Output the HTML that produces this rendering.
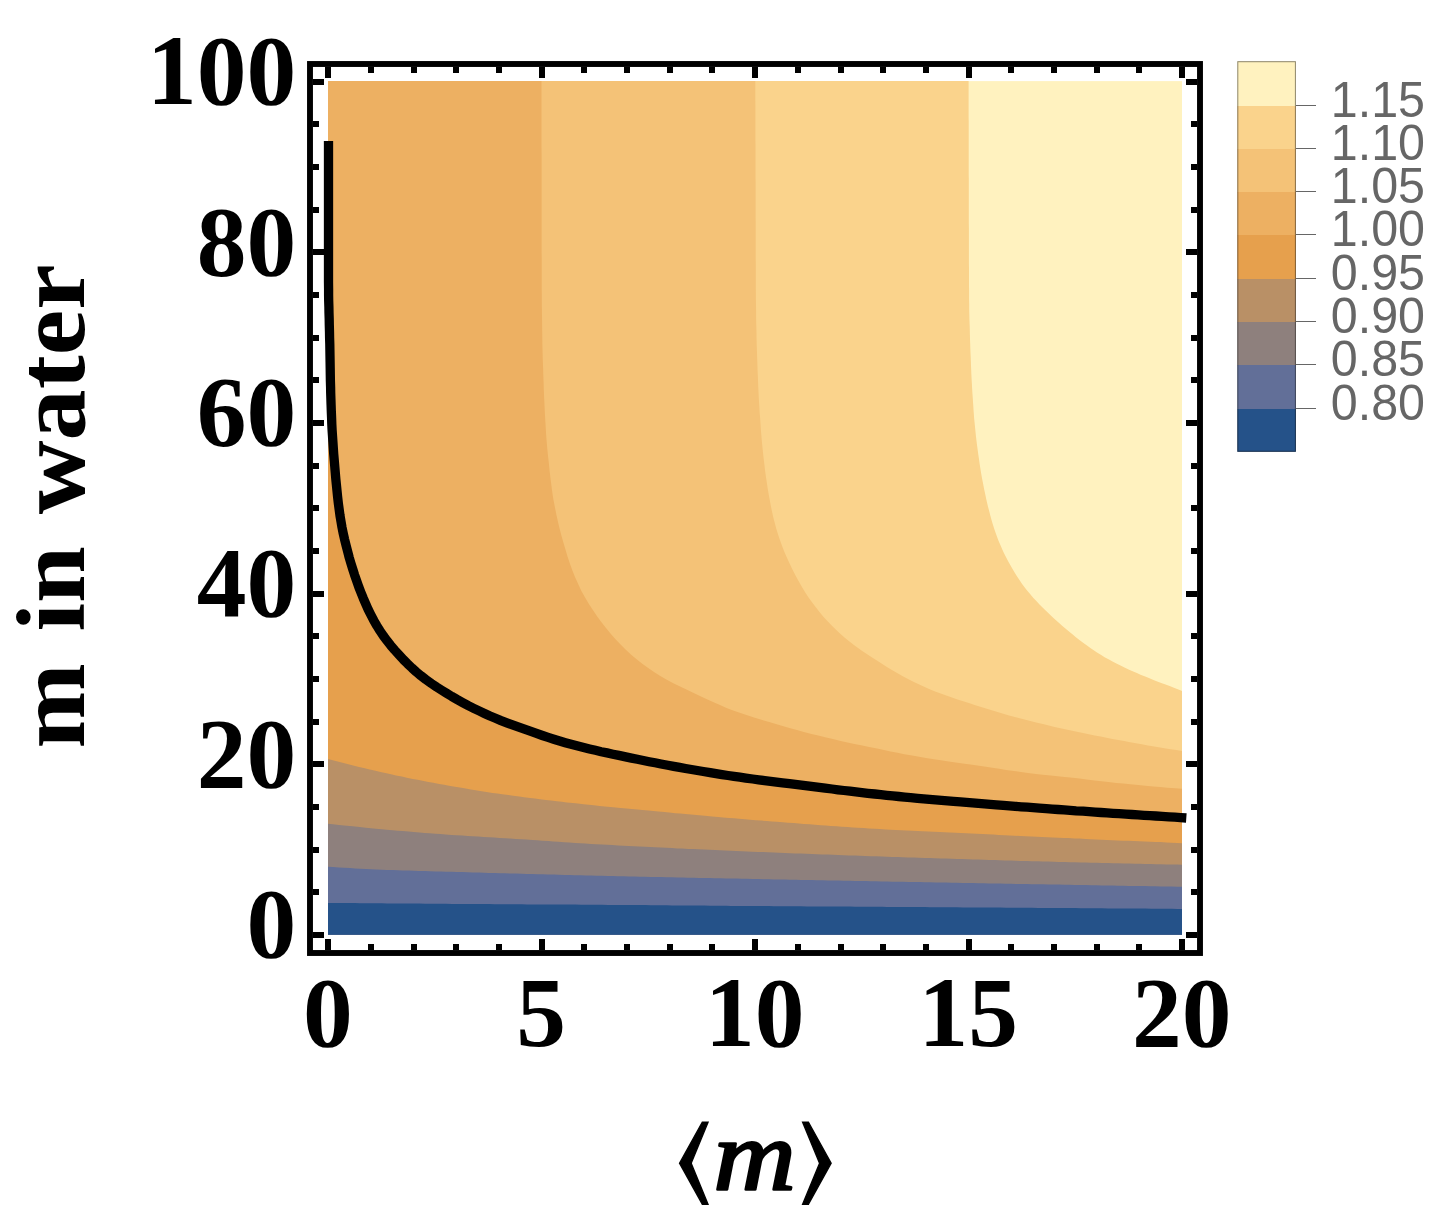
<!DOCTYPE html>
<html><head><meta charset="utf-8"><title>Contour plot</title>
<style>html,body{margin:0;padding:0;background:#fff}svg{display:block}</style></head>
<body><svg width="1451" height="1226" viewBox="0 0 1451 1226">
<rect width="1451" height="1226" fill="#fff"/>
<rect x="328" y="81.1" width="854" height="853.7" fill="#FFF2BF"/>
<path d="M328.0 81.1 L968.6 81.0 L968.6 85.0 L968.6 90.0 L968.6 94.0 L968.6 99.0 L968.6 103.0 L968.6 108.0 L968.6 112.0 L968.6 117.0 L968.7 121.0 L968.7 126.0 L968.7 130.0 L968.7 134.0 L968.7 139.0 L968.7 143.0 L968.7 148.0 L968.7 152.0 L968.7 157.0 L968.7 161.0 L968.7 166.0 L968.7 170.0 L968.7 175.0 L968.8 179.0 L968.8 183.0 L968.8 188.0 L968.8 192.0 L968.8 197.0 L968.8 201.0 L968.8 206.0 L968.8 210.0 L968.8 215.0 L968.8 219.0 L968.8 223.0 L968.9 228.0 L968.9 232.0 L968.9 237.0 L968.9 241.0 L968.9 246.0 L968.9 250.0 L968.9 255.0 L968.9 259.0 L968.9 264.0 L969.0 268.0 L969.0 272.0 L969.0 277.0 L969.0 281.0 L969.0 286.0 L969.1 290.0 L969.1 295.0 L969.1 299.0 L969.2 304.0 L969.2 308.0 L969.3 313.0 L969.4 317.0 L969.5 321.0 L969.7 326.0 L969.8 330.0 L969.9 335.0 L970.0 339.0 L970.2 344.0 L970.3 348.0 L970.5 353.0 L970.7 357.0 L970.9 362.0 L971.0 366.0 L971.2 370.0 L971.4 375.0 L971.6 379.0 L971.9 383.9 L972.1 387.9 L972.4 392.9 L972.7 396.9 L973.0 401.9 L973.3 405.9 L973.6 410.9 L973.9 414.9 L974.2 418.9 L974.7 423.8 L975.1 427.8 L975.6 432.8 L976.0 436.8 L976.6 441.7 L977.1 445.7 L977.8 450.7 L978.3 454.6 L978.9 458.6 L979.6 463.5 L980.2 467.5 L981.0 472.4 L981.7 476.4 L982.6 481.3 L983.4 485.2 L984.3 490.1 L985.2 494.0 L986.2 498.9 L987.1 502.8 L988.0 506.7 L989.3 511.5 L990.3 515.4 L991.6 520.2 L992.7 524.1 L994.2 528.8 L995.5 532.6 L997.2 537.3 L998.6 541.0 L1000.6 545.6 L1002.2 549.3 L1003.9 552.9 L1006.2 557.4 L1008.0 560.9 L1010.4 565.3 L1012.4 568.8 L1014.9 573.1 L1017.1 576.5 L1019.8 580.6 L1022.1 583.9 L1025.1 587.9 L1027.5 591.0 L1030.1 594.1 L1033.4 597.9 L1036.1 600.8 L1039.5 604.5 L1042.3 607.3 L1045.9 610.8 L1048.8 613.6 L1052.4 617.0 L1055.4 619.7 L1059.1 623.1 L1062.1 625.7 L1065.1 628.3 L1069.0 631.5 L1072.1 634.1 L1075.9 637.2 L1079.1 639.7 L1083.1 642.7 L1086.3 645.1 L1090.4 648.0 L1093.7 650.2 L1097.0 652.4 L1101.2 655.1 L1104.6 657.2 L1109.0 659.6 L1112.5 661.5 L1116.9 663.8 L1120.5 665.6 L1125.0 667.8 L1128.6 669.5 L1133.2 671.5 L1136.9 673.1 L1140.5 674.7 L1145.2 676.6 L1148.9 678.1 L1153.5 680.0 L1157.2 681.4 L1161.9 683.2 L1165.6 684.6 L1170.3 686.3 L1173.9 687.7 L1178.4 689.5 L1182.0 690.9 L1182.0 690.9 L1182.0 934.8 L328.0 934.8Z" fill="#FAD38C"/>
<path d="M328.0 81.1 L755.3 81.0 L755.3 87.0 L755.3 93.0 L755.3 99.0 L755.4 105.0 L755.4 111.0 L755.4 116.0 L755.4 122.0 L755.4 128.0 L755.4 134.0 L755.4 140.0 L755.5 146.0 L755.5 152.0 L755.5 158.0 L755.5 164.0 L755.5 170.0 L755.5 176.0 L755.6 182.0 L755.6 187.0 L755.6 193.0 L755.6 199.0 L755.6 205.0 L755.6 211.0 L755.6 217.0 L755.7 223.0 L755.7 229.0 L755.7 235.0 L755.7 241.0 L755.7 247.0 L755.7 252.0 L755.7 258.0 L755.8 264.0 L755.8 270.0 L755.8 276.0 L755.8 282.0 L755.8 288.0 L755.9 294.0 L755.9 300.0 L756.0 306.0 L756.1 312.0 L756.1 317.0 L756.2 323.0 L756.4 329.0 L756.5 335.0 L756.6 341.0 L756.8 347.0 L757.0 353.0 L757.2 359.0 L757.4 365.0 L757.6 371.0 L757.9 377.0 L758.1 383.0 L758.3 388.0 L758.6 394.0 L758.9 399.9 L759.3 405.9 L759.6 411.9 L760.1 417.9 L760.5 423.9 L760.9 429.9 L761.4 435.9 L761.9 441.8 L762.5 447.8 L763.0 452.8 L763.7 458.7 L764.4 464.7 L765.1 470.7 L765.9 476.6 L766.8 482.5 L767.7 488.5 L768.7 494.4 L769.8 500.3 L770.9 506.2 L772.1 512.1 L773.2 516.9 L774.7 522.7 L776.2 528.5 L778.0 534.3 L779.9 539.9 L781.9 545.6 L784.1 551.2 L786.5 556.7 L788.9 562.1 L791.5 567.6 L794.2 572.9 L797.0 578.2 L799.4 582.6 L802.4 587.8 L805.6 592.9 L808.9 597.9 L812.4 602.8 L816.0 607.6 L819.7 612.3 L823.6 616.9 L827.6 621.3 L831.7 625.6 L836.0 629.8 L839.7 633.2 L844.2 637.2 L848.8 641.0 L853.6 644.7 L858.4 648.2 L863.3 651.7 L868.3 655.0 L873.3 658.3 L878.4 661.5 L883.4 664.8 L888.5 667.9 L892.8 670.5 L898.0 673.5 L903.2 676.5 L908.5 679.3 L913.9 682.0 L919.3 684.6 L924.7 687.1 L930.2 689.4 L935.8 691.7 L941.4 693.8 L947.0 695.8 L952.7 697.8 L957.5 699.4 L963.2 701.3 L968.9 703.1 L974.6 705.0 L980.3 706.8 L986.0 708.6 L991.8 710.3 L997.5 712.0 L1003.3 713.7 L1009.0 715.4 L1014.8 717.0 L1019.7 718.3 L1025.5 719.8 L1031.3 721.3 L1037.1 722.7 L1042.9 724.1 L1048.8 725.5 L1054.6 726.9 L1060.5 728.2 L1066.3 729.5 L1072.2 730.7 L1078.1 732.0 L1083.0 733.0 L1088.8 734.2 L1094.7 735.4 L1100.6 736.5 L1106.5 737.7 L1112.4 738.9 L1118.3 740.0 L1124.2 741.1 L1130.1 742.2 L1136.0 743.3 L1141.9 744.3 L1147.8 745.4 L1152.7 746.2 L1158.6 747.2 L1164.5 748.2 L1170.4 749.2 L1176.2 750.1 L1182.0 751.0 L1182.0 751.0 L1182.0 934.8 L328.0 934.8Z" fill="#F4C277"/>
<path d="M328.0 81.1 L541.5 81.0 L541.5 88.0 L541.5 96.0 L541.5 103.0 L541.5 110.0 L541.5 118.0 L541.5 125.0 L541.5 133.0 L541.5 140.0 L541.5 147.0 L541.6 155.0 L541.6 162.0 L541.6 169.0 L541.6 177.0 L541.6 184.0 L541.6 191.0 L541.6 199.0 L541.6 206.0 L541.6 213.0 L541.6 221.0 L541.6 228.0 L541.6 236.0 L541.6 243.0 L541.6 250.0 L541.7 258.0 L541.7 265.0 L541.7 272.0 L541.7 280.0 L541.7 287.0 L541.8 294.0 L541.8 302.0 L541.9 309.0 L542.0 316.0 L542.1 324.0 L542.2 331.0 L542.3 339.0 L542.4 346.0 L542.6 353.0 L542.8 361.0 L543.1 368.0 L543.3 375.0 L543.6 383.0 L543.8 390.0 L544.1 397.0 L544.5 405.0 L544.8 411.9 L545.2 418.9 L545.7 426.9 L546.1 433.9 L546.7 441.9 L547.3 448.9 L548.0 455.8 L548.9 463.8 L549.6 470.7 L550.4 477.7 L551.4 485.6 L552.3 492.6 L553.4 499.5 L554.9 507.3 L556.3 514.2 L558.0 522.0 L559.6 528.8 L561.4 535.6 L563.6 543.3 L565.6 550.0 L567.6 556.7 L570.1 564.3 L572.5 570.8 L575.1 577.3 L578.4 584.6 L581.4 590.9 L584.8 597.1 L588.9 603.9 L592.7 609.8 L597.2 616.4 L601.3 622.0 L605.6 627.6 L610.7 633.7 L615.3 639.0 L620.1 644.1 L625.8 649.7 L630.9 654.4 L636.3 659.0 L642.6 663.9 L648.2 668.0 L654.0 672.0 L660.7 676.3 L666.8 679.8 L673.8 683.5 L680.1 686.6 L686.4 689.6 L693.7 693.0 L700.0 695.9 L706.4 698.9 L713.6 702.3 L720.0 705.1 L726.5 707.9 L733.9 710.8 L740.5 713.1 L747.2 715.3 L754.8 717.7 L761.5 719.8 L769.2 722.0 L775.9 724.0 L782.6 726.0 L790.3 728.2 L797.0 730.1 L803.8 731.9 L811.5 733.9 L818.3 735.6 L825.1 737.3 L832.9 739.1 L839.7 740.7 L847.5 742.4 L854.4 743.9 L861.2 745.3 L869.1 746.9 L875.9 748.3 L882.8 749.8 L890.6 751.4 L897.5 752.8 L904.3 754.2 L912.2 755.6 L919.1 756.8 L926.0 758.0 L933.9 759.2 L940.8 760.3 L948.7 761.5 L955.6 762.5 L962.6 763.5 L970.5 764.6 L977.4 765.6 L984.3 766.6 L992.3 767.8 L999.2 768.8 L1006.1 769.9 L1014.0 771.0 L1021.0 772.0 L1027.9 772.9 L1035.8 773.9 L1042.8 774.7 L1050.7 775.6 L1057.7 776.3 L1064.7 777.0 L1072.6 777.8 L1079.6 778.6 L1086.5 779.4 L1094.5 780.4 L1101.4 781.2 L1108.4 782.0 L1116.3 782.9 L1123.3 783.6 L1130.3 784.3 L1138.2 785.1 L1145.2 785.7 L1153.2 786.5 L1160.1 787.1 L1167.1 787.7 L1175.1 788.3 L1182.0 788.8 L1182.0 788.8 L1182.0 934.8 L328.0 934.8Z" fill="#EDB062"/>
<path d="M328.0 141.0 L328.5 141.0 L328.5 149.0 L328.5 158.0 L328.5 166.0 L328.5 175.0 L328.5 183.0 L328.5 192.0 L328.5 200.0 L328.5 209.0 L328.5 217.0 L328.5 226.0 L328.5 234.0 L328.5 243.0 L328.5 251.0 L328.5 260.0 L328.5 268.0 L328.5 276.0 L328.5 285.0 L328.6 293.0 L328.8 302.0 L328.9 310.0 L329.2 319.0 L329.4 327.0 L329.6 336.0 L329.8 344.0 L329.9 353.0 L330.1 361.0 L330.2 370.0 L330.4 378.0 L330.5 386.0 L330.8 395.0 L331.0 403.0 L331.3 412.0 L331.6 420.0 L332.1 428.9 L332.6 436.9 L333.2 445.9 L333.7 453.9 L334.5 462.9 L335.1 470.8 L335.9 479.8 L336.7 487.8 L337.6 496.7 L338.6 504.7 L339.6 512.6 L341.0 521.5 L342.4 529.3 L344.3 538.1 L346.2 545.9 L348.4 554.6 L350.6 562.3 L353.3 570.9 L355.8 578.5 L358.8 587.0 L361.7 594.4 L365.2 602.7 L368.5 610.0 L372.5 618.1 L376.4 625.0 L380.6 631.8 L385.8 639.2 L390.7 645.4 L396.6 652.2 L402.1 658.1 L408.4 664.5 L414.2 670.0 L421.0 675.8 L427.4 680.7 L434.8 685.8 L441.5 690.1 L449.1 694.8 L456.1 698.9 L463.9 703.2 L471.0 706.9 L478.2 710.5 L486.3 714.3 L493.6 717.6 L502.0 721.0 L509.4 723.8 L517.9 726.9 L525.4 729.5 L533.9 732.5 L541.5 735.1 L550.0 738.0 L557.6 740.4 L566.3 743.0 L574.0 745.1 L581.7 747.1 L590.5 749.2 L598.3 751.0 L607.1 752.9 L614.9 754.6 L623.7 756.5 L631.5 758.1 L640.4 759.9 L648.2 761.5 L657.0 763.2 L664.9 764.7 L673.7 766.4 L681.6 767.8 L690.5 769.4 L698.4 770.7 L706.2 772.0 L715.1 773.5 L723.0 774.7 L731.9 776.1 L739.8 777.2 L748.8 778.5 L756.7 779.5 L765.6 780.7 L773.5 781.7 L782.5 782.8 L790.4 783.8 L799.4 784.9 L807.3 785.9 L816.2 787.0 L824.2 788.0 L832.1 789.0 L841.0 790.1 L849.0 791.1 L857.9 792.1 L865.9 793.0 L874.8 794.0 L882.8 794.8 L891.7 795.8 L899.7 796.6 L908.6 797.4 L916.6 798.2 L925.6 799.0 L933.5 799.7 L942.5 800.5 L950.5 801.1 L958.4 801.8 L967.4 802.5 L975.4 803.1 L984.4 803.9 L992.3 804.5 L1001.3 805.2 L1009.3 805.8 L1018.3 806.5 L1026.2 807.2 L1035.2 807.8 L1043.2 808.4 L1052.2 809.1 L1060.1 809.6 L1068.1 810.2 L1077.1 810.8 L1085.1 811.4 L1094.1 812.0 L1102.0 812.5 L1111.0 813.1 L1119.0 813.6 L1128.0 814.2 L1136.0 814.7 L1144.9 815.3 L1152.9 815.8 L1161.9 816.4 L1169.8 816.9 L1178.6 817.5 L1182.0 818.0 L1182.0 818.0 L1182.0 934.8 L328.0 934.8Z" fill="#E6A04D"/>
<path d="M328.0 758.9 L328.0 758.9 L332.8 760.2 L338.6 761.8 L343.5 763.0 L349.3 764.5 L354.1 765.8 L359.0 767.0 L364.8 768.3 L369.7 769.5 L375.5 770.8 L380.4 771.9 L385.3 773.0 L391.1 774.3 L396.0 775.4 L401.9 776.6 L406.8 777.7 L412.7 778.9 L417.6 779.8 L422.5 780.8 L428.4 781.9 L433.3 782.8 L439.2 783.9 L444.1 784.8 L449.0 785.7 L454.9 786.7 L459.9 787.6 L465.8 788.6 L470.7 789.4 L475.6 790.2 L481.6 791.2 L486.5 791.9 L492.4 792.9 L497.4 793.6 L502.3 794.3 L508.3 795.1 L513.2 795.8 L519.2 796.6 L524.1 797.3 L530.1 798.0 L535.0 798.6 L540.0 799.3 L546.0 800.0 L550.9 800.6 L556.9 801.3 L561.9 801.8 L566.8 802.4 L572.8 803.1 L577.8 803.6 L583.7 804.3 L588.7 804.8 L593.7 805.3 L599.6 805.9 L604.6 806.4 L610.6 807.0 L615.6 807.5 L620.5 808.0 L626.5 808.5 L631.5 809.0 L637.5 809.6 L642.4 810.1 L648.4 810.6 L653.4 811.1 L658.4 811.6 L664.3 812.1 L669.3 812.6 L675.3 813.2 L680.3 813.6 L685.2 814.1 L691.2 814.6 L696.2 815.1 L702.2 815.6 L707.2 816.0 L712.1 816.5 L718.1 817.0 L723.1 817.4 L729.1 817.9 L734.1 818.3 L739.0 818.8 L745.0 819.3 L750.0 819.7 L756.0 820.2 L761.0 820.6 L766.9 821.0 L771.9 821.4 L776.9 821.8 L782.9 822.3 L787.9 822.7 L793.9 823.1 L798.9 823.5 L803.8 823.9 L809.8 824.3 L814.8 824.7 L820.8 825.2 L825.8 825.5 L830.8 825.9 L836.8 826.3 L841.7 826.7 L847.7 827.1 L852.7 827.4 L857.7 827.7 L863.7 828.1 L868.7 828.4 L874.7 828.8 L879.7 829.1 L885.7 829.4 L890.6 829.7 L895.6 829.9 L901.6 830.3 L906.6 830.5 L912.6 830.8 L917.6 831.1 L922.6 831.3 L928.6 831.6 L933.6 831.8 L939.6 832.1 L944.6 832.3 L949.6 832.6 L955.6 832.8 L960.6 833.1 L966.6 833.3 L971.6 833.6 L976.5 833.8 L982.5 834.1 L987.5 834.3 L993.5 834.6 L998.5 834.9 L1004.5 835.2 L1009.5 835.4 L1014.5 835.7 L1020.5 836.0 L1025.5 836.2 L1031.5 836.5 L1036.5 836.7 L1041.5 836.9 L1047.5 837.2 L1052.5 837.4 L1058.5 837.7 L1063.5 837.9 L1068.4 838.1 L1074.4 838.4 L1079.4 838.6 L1085.4 839.0 L1090.4 839.2 L1095.4 839.5 L1101.4 839.8 L1106.4 840.1 L1112.4 840.3 L1117.4 840.5 L1123.4 840.7 L1128.4 840.8 L1133.4 841.0 L1139.4 841.2 L1144.4 841.4 L1150.4 841.7 L1155.4 841.9 L1160.3 842.1 L1166.3 842.4 L1171.2 842.7 L1177.1 843.0 L1182.0 843.3 L1182.0 843.3 L1182.0 934.8 L328.0 934.8Z" fill="#B99066"/>
<path d="M328.0 823.8 L328.0 823.8 L333.0 824.3 L338.9 825.0 L343.9 825.5 L349.9 826.1 L354.9 826.6 L359.8 827.1 L365.8 827.7 L370.8 828.2 L375.8 828.7 L381.7 829.2 L386.7 829.7 L392.7 830.2 L397.7 830.7 L402.6 831.1 L408.6 831.6 L413.6 832.0 L419.6 832.5 L424.6 832.9 L429.6 833.3 L435.5 833.8 L440.5 834.1 L445.5 834.5 L451.5 834.9 L456.5 835.2 L462.5 835.6 L467.5 835.9 L472.5 836.3 L478.4 836.6 L483.4 836.9 L489.4 837.3 L494.4 837.6 L499.4 837.9 L505.4 838.3 L510.4 838.6 L515.4 838.9 L521.4 839.3 L526.3 839.6 L532.3 840.0 L537.3 840.3 L542.3 840.7 L548.3 841.1 L553.3 841.4 L558.3 841.8 L564.3 842.2 L569.3 842.5 L575.2 842.9 L580.2 843.2 L585.2 843.5 L591.2 843.9 L596.2 844.2 L602.2 844.5 L607.2 844.8 L612.2 845.1 L618.2 845.4 L623.2 845.7 L628.1 845.9 L634.1 846.2 L639.1 846.5 L645.1 846.8 L650.1 847.0 L655.1 847.3 L661.1 847.6 L666.1 847.8 L672.1 848.1 L677.1 848.4 L682.1 848.6 L688.1 848.9 L693.1 849.1 L698.1 849.3 L704.1 849.6 L709.1 849.8 L715.1 850.1 L720.0 850.3 L725.0 850.5 L731.0 850.8 L736.0 851.0 L742.0 851.3 L747.0 851.5 L752.0 851.7 L758.0 851.9 L763.0 852.1 L768.0 852.3 L774.0 852.6 L779.0 852.8 L785.0 853.0 L790.0 853.2 L795.0 853.4 L801.0 853.6 L806.0 853.8 L812.0 854.0 L817.0 854.2 L822.0 854.4 L828.0 854.6 L833.0 854.8 L838.0 855.0 L843.9 855.2 L848.9 855.4 L854.9 855.6 L859.9 855.8 L864.9 855.9 L870.9 856.2 L875.9 856.3 L881.9 856.5 L886.9 856.7 L891.9 856.9 L897.9 857.1 L902.9 857.2 L907.9 857.4 L913.9 857.6 L918.9 857.8 L924.9 858.0 L929.9 858.1 L934.9 858.3 L940.9 858.5 L945.9 858.6 L951.9 858.8 L956.9 859.0 L961.9 859.1 L967.9 859.3 L972.9 859.5 L977.9 859.6 L983.9 859.8 L988.9 860.0 L994.9 860.1 L999.9 860.3 L1004.9 860.4 L1010.9 860.6 L1015.9 860.7 L1020.9 860.9 L1026.9 861.0 L1031.9 861.2 L1037.9 861.3 L1042.9 861.5 L1047.8 861.6 L1053.8 861.8 L1058.8 861.9 L1064.8 862.0 L1069.8 862.2 L1074.8 862.3 L1080.8 862.4 L1085.8 862.6 L1090.8 862.7 L1096.8 862.8 L1101.8 863.0 L1107.8 863.1 L1112.8 863.2 L1117.8 863.3 L1123.8 863.5 L1128.8 863.6 L1134.8 863.7 L1139.8 863.8 L1144.8 863.9 L1150.8 864.1 L1155.8 864.2 L1160.8 864.3 L1166.7 864.4 L1171.6 864.5 L1177.3 864.6 L1182.0 864.7 L1182.0 864.7 L1182.0 934.8 L328.0 934.8Z" fill="#8E807D"/>
<path d="M328.0 866.8 L328.0 866.8 L333.0 867.1 L339.0 867.5 L344.0 867.8 L350.0 868.1 L355.0 868.4 L359.9 868.7 L365.9 869.0 L370.9 869.2 L375.9 869.4 L381.9 869.7 L386.9 869.9 L392.9 870.1 L397.9 870.3 L402.9 870.5 L408.9 870.6 L413.9 870.8 L418.9 870.9 L424.9 871.1 L429.9 871.2 L435.9 871.4 L440.9 871.5 L445.9 871.7 L451.9 871.8 L456.9 872.0 L461.9 872.1 L467.9 872.3 L472.9 872.4 L478.9 872.6 L483.9 872.7 L488.9 872.9 L494.9 873.0 L499.9 873.2 L504.9 873.3 L510.9 873.5 L515.9 873.6 L521.9 873.8 L526.9 873.9 L531.9 874.0 L537.9 874.2 L542.9 874.3 L547.9 874.5 L553.9 874.6 L558.8 874.8 L564.8 874.9 L569.8 875.0 L574.8 875.2 L580.8 875.3 L585.8 875.5 L590.8 875.6 L596.8 875.7 L601.8 875.8 L607.8 876.0 L612.8 876.1 L617.8 876.2 L623.8 876.3 L628.8 876.4 L634.8 876.6 L639.8 876.7 L644.8 876.8 L650.8 876.9 L655.8 877.0 L660.8 877.1 L666.8 877.2 L671.8 877.3 L677.8 877.5 L682.8 877.6 L687.8 877.7 L693.8 877.8 L698.8 877.9 L703.8 878.0 L709.8 878.1 L714.8 878.2 L720.8 878.3 L725.8 878.4 L730.8 878.5 L736.8 878.6 L741.8 878.7 L746.8 878.8 L752.8 879.0 L757.8 879.1 L763.8 879.2 L768.8 879.3 L773.8 879.4 L779.8 879.5 L784.8 879.6 L789.8 879.7 L795.8 879.8 L800.8 879.9 L806.8 880.0 L811.8 880.1 L816.8 880.2 L822.8 880.3 L827.8 880.4 L832.8 880.5 L838.8 880.6 L843.8 880.7 L849.8 880.8 L854.8 880.9 L859.8 881.0 L865.8 881.1 L870.8 881.2 L875.8 881.3 L881.8 881.4 L886.8 881.5 L892.8 881.7 L897.8 881.7 L902.8 881.8 L908.8 881.9 L913.8 882.0 L919.8 882.1 L924.8 882.2 L929.8 882.3 L935.8 882.4 L940.8 882.5 L945.8 882.6 L951.8 882.7 L956.8 882.8 L962.8 882.9 L967.8 883.0 L972.8 883.1 L978.8 883.2 L983.8 883.3 L988.8 883.4 L994.8 883.5 L999.8 883.6 L1005.8 883.7 L1010.8 883.8 L1015.8 883.9 L1021.8 884.0 L1026.8 884.1 L1031.8 884.2 L1037.8 884.3 L1042.8 884.3 L1048.8 884.5 L1053.8 884.5 L1058.8 884.6 L1064.7 884.7 L1069.7 884.8 L1074.7 884.9 L1080.7 885.0 L1085.7 885.1 L1091.7 885.2 L1096.7 885.3 L1101.7 885.4 L1107.7 885.5 L1112.7 885.6 L1117.7 885.7 L1123.7 885.8 L1128.7 885.9 L1134.7 886.0 L1139.7 886.1 L1144.7 886.1 L1150.7 886.3 L1155.7 886.3 L1160.7 886.4 L1166.7 886.5 L1171.5 886.6 L1177.3 886.7 L1182.0 886.8 L1182.0 886.8 L1182.0 934.8 L328.0 934.8Z" fill="#626F98"/>
<path d="M328.0 902.9 L328.0 902.9 L333.0 902.9 L339.0 903.0 L344.0 903.0 L350.0 903.1 L355.0 903.1 L360.0 903.2 L366.0 903.2 L371.0 903.3 L376.0 903.3 L382.0 903.3 L387.0 903.4 L393.0 903.4 L398.0 903.5 L403.0 903.5 L409.0 903.6 L414.0 903.6 L419.0 903.6 L425.0 903.7 L430.0 903.7 L436.0 903.8 L441.0 903.8 L446.0 903.8 L452.0 903.9 L457.0 903.9 L462.0 903.9 L468.0 904.0 L473.0 904.0 L479.0 904.1 L484.0 904.1 L489.0 904.1 L495.0 904.2 L500.0 904.2 L505.0 904.2 L511.0 904.3 L516.0 904.3 L522.0 904.3 L527.0 904.4 L532.0 904.4 L538.0 904.4 L543.0 904.4 L548.0 904.5 L554.0 904.5 L559.0 904.5 L565.0 904.6 L570.0 904.6 L575.0 904.6 L581.0 904.7 L586.0 904.7 L591.0 904.7 L597.0 904.8 L602.0 904.8 L608.0 904.9 L613.0 904.9 L618.0 904.9 L624.0 905.0 L629.0 905.0 L635.0 905.1 L640.0 905.1 L645.0 905.1 L651.0 905.2 L656.0 905.2 L661.0 905.3 L667.0 905.3 L672.0 905.4 L678.0 905.4 L683.0 905.5 L688.0 905.5 L694.0 905.6 L699.0 905.6 L704.0 905.6 L710.0 905.7 L715.0 905.7 L721.0 905.8 L726.0 905.8 L731.0 905.9 L737.0 905.9 L742.0 905.9 L747.0 906.0 L753.0 906.0 L758.0 906.1 L764.0 906.1 L769.0 906.1 L774.0 906.2 L780.0 906.2 L785.0 906.2 L790.0 906.3 L796.0 906.3 L801.0 906.3 L807.0 906.4 L812.0 906.4 L817.0 906.4 L823.0 906.5 L828.0 906.5 L833.0 906.5 L839.0 906.6 L844.0 906.6 L850.0 906.6 L855.0 906.7 L860.0 906.7 L866.0 906.7 L871.0 906.8 L876.0 906.8 L882.0 906.8 L887.0 906.9 L893.0 906.9 L898.0 907.0 L903.0 907.0 L909.0 907.0 L914.0 907.1 L920.0 907.1 L925.0 907.1 L930.0 907.2 L936.0 907.2 L941.0 907.2 L946.0 907.3 L952.0 907.3 L957.0 907.3 L963.0 907.4 L968.0 907.4 L973.0 907.4 L979.0 907.5 L984.0 907.5 L989.0 907.6 L995.0 907.6 L1000.0 907.6 L1006.0 907.7 L1011.0 907.7 L1016.0 907.7 L1022.0 907.8 L1027.0 907.8 L1032.0 907.8 L1038.0 907.9 L1043.0 907.9 L1049.0 908.0 L1054.0 908.0 L1059.0 908.0 L1065.0 908.1 L1070.0 908.1 L1075.0 908.1 L1081.0 908.2 L1086.0 908.2 L1092.0 908.3 L1097.0 908.3 L1102.0 908.3 L1108.0 908.4 L1113.0 908.4 L1118.0 908.4 L1124.0 908.5 L1129.0 908.5 L1135.0 908.6 L1140.0 908.6 L1145.0 908.6 L1151.0 908.7 L1156.0 908.7 L1161.0 908.7 L1166.9 908.8 L1171.7 908.8 L1177.4 908.9 L1182.0 908.9 L1182.0 908.9 L1182.0 934.8 L328.0 934.8Z" fill="#255289"/>
<path d="M328.5 141.0 L328.5 147.0 L328.5 153.0 L328.5 159.0 L328.5 166.0 L328.5 172.0 L328.5 178.0 L328.5 184.0 L328.5 190.0 L328.5 196.0 L328.5 202.0 L328.5 209.0 L328.5 215.0 L328.5 221.0 L328.5 227.0 L328.5 233.0 L328.5 239.0 L328.5 245.0 L328.5 252.0 L328.5 258.0 L328.5 264.0 L328.5 270.0 L328.5 276.0 L328.5 282.0 L328.6 289.0 L328.6 295.0 L328.7 301.0 L328.9 307.0 L329.0 313.0 L329.2 319.0 L329.3 325.0 L329.5 332.0 L329.6 338.0 L329.8 344.0 L329.9 350.0 L330.0 356.0 L330.1 362.0 L330.2 368.0 L330.3 375.0 L330.4 381.0 L330.6 387.0 L330.7 393.0 L330.9 399.0 L331.1 405.0 L331.3 411.0 L331.6 418.0 L331.8 424.0 L332.1 429.9 L332.5 435.9 L332.9 441.9 L333.3 447.9 L333.7 453.9 L334.3 460.9 L334.8 466.8 L335.3 472.8 L335.8 478.8 L336.4 484.8 L337.0 490.7 L337.6 496.7 L338.4 503.7 L339.2 509.6 L340.0 515.6 L341.0 521.5 L342.0 527.4 L343.2 533.3 L344.5 539.1 L346.2 545.9 L347.7 551.7 L349.2 557.5 L350.9 563.3 L352.7 569.0 L354.5 574.7 L356.8 581.3 L358.8 587.0 L361.0 592.6 L363.2 598.1 L365.6 603.7 L368.0 609.1 L370.7 614.5 L373.9 620.7 L376.9 625.9 L380.1 631.0 L383.4 635.9 L387.0 640.7 L390.7 645.4 L394.6 650.0 L399.3 655.2 L403.4 659.6 L407.6 663.8 L412.0 668.0 L416.4 672.0 L421.0 675.8 L425.8 679.5 L431.4 683.5 L436.4 686.9 L441.5 690.1 L446.6 693.3 L451.7 696.4 L456.9 699.4 L462.2 702.3 L468.3 705.6 L473.7 708.3 L479.1 710.9 L484.5 713.5 L490.0 716.0 L495.5 718.3 L501.0 720.6 L507.5 723.1 L513.2 725.2 L518.8 727.2 L524.5 729.2 L530.2 731.2 L535.8 733.2 L542.4 735.5 L548.1 737.4 L553.8 739.2 L559.6 741.0 L565.3 742.7 L571.1 744.3 L576.9 745.8 L583.7 747.6 L589.5 749.0 L595.4 750.3 L601.2 751.7 L607.1 752.9 L612.9 754.2 L618.8 755.4 L625.7 756.9 L631.5 758.1 L637.4 759.3 L643.3 760.5 L649.2 761.7 L655.1 762.8 L661.0 764.0 L667.8 765.3 L673.7 766.4 L679.6 767.4 L685.5 768.5 L691.5 769.5 L697.4 770.5 L703.3 771.5 L710.2 772.7 L716.1 773.6 L722.0 774.6 L728.0 775.5 L733.9 776.4 L739.8 777.2 L745.8 778.1 L752.7 779.0 L758.7 779.8 L764.6 780.6 L770.6 781.3 L776.5 782.1 L782.5 782.8 L789.4 783.7 L795.4 784.4 L801.3 785.1 L807.3 785.9 L813.2 786.7 L819.2 787.4 L825.1 788.2 L832.1 789.0 L838.0 789.8 L844.0 790.5 L850.0 791.2 L855.9 791.9 L861.9 792.6 L867.8 793.3 L874.8 794.0 L880.8 794.6 L886.7 795.3 L892.7 795.9 L898.7 796.5 L904.6 797.1 L910.6 797.6 L917.6 798.3 L923.6 798.8 L929.5 799.4 L935.5 799.9 L941.5 800.4 L947.5 800.9 L953.5 801.4 L960.4 801.9 L966.4 802.4 L972.4 802.9 L978.4 803.4 L984.4 803.9 L990.3 804.3 L996.3 804.8 L1003.3 805.4 L1009.3 805.8 L1015.3 806.3 L1021.2 806.8 L1027.2 807.2 L1033.2 807.7 L1039.2 808.1 L1046.2 808.6 L1052.2 809.1 L1058.1 809.5 L1064.1 809.9 L1070.1 810.3 L1076.1 810.8 L1083.1 811.2 L1089.1 811.7 L1095.1 812.1 L1101.0 812.5 L1107.0 812.9 L1113.0 813.3 L1119.0 813.6 L1126.0 814.1 L1132.0 814.5 L1138.0 814.9 L1143.9 815.3 L1149.9 815.6 L1155.9 816.0 L1161.9 816.4 L1168.9 816.8 L1174.8 817.2 L1180.6 817.6 L1186.3 818.0" fill="none" stroke="#000" stroke-width="9.3" stroke-linejoin="round"/>
<rect x="310" y="64" width="890" height="889" fill="none" stroke="#000" stroke-width="5.9"/>
<path d="M325 950h6v-11h-6zM325 67h6v11h-6zM368 950h6v-6h-6zM368 67h6v6h-6zM411 950h6v-6h-6zM411 67h6v6h-6zM453 950h6v-6h-6zM453 67h6v6h-6zM496 950h6v-6h-6zM496 67h6v6h-6zM539 950h6v-11h-6zM539 67h6v11h-6zM581 950h6v-6h-6zM581 67h6v6h-6zM624 950h6v-6h-6zM624 67h6v6h-6zM667 950h6v-6h-6zM667 67h6v6h-6zM709 950h6v-6h-6zM709 67h6v6h-6zM752 950h6v-11h-6zM752 67h6v11h-6zM795 950h6v-6h-6zM795 67h6v6h-6zM838 950h6v-6h-6zM838 67h6v6h-6zM880 950h6v-6h-6zM880 67h6v6h-6zM923 950h6v-6h-6zM923 67h6v6h-6zM966 950h6v-11h-6zM966 67h6v11h-6zM1008 950h6v-6h-6zM1008 67h6v6h-6zM1051 950h6v-6h-6zM1051 67h6v6h-6zM1094 950h6v-6h-6zM1094 67h6v6h-6zM1136 950h6v-6h-6zM1136 67h6v6h-6zM1179 950h6v-11h-6zM1179 67h6v11h-6zM313 938v-6h11v6zM1197 938v-6h-11v6zM313 895v-6h6v6zM1197 895v-6h-6v6zM313 853v-6h6v6zM1197 853v-6h-6v6zM313 810v-6h6v6zM1197 810v-6h-6v6zM313 767v-6h11v6zM1197 767v-6h-11v6zM313 725v-6h6v6zM1197 725v-6h-6v6zM313 682v-6h6v6zM1197 682v-6h-6v6zM313 639v-6h6v6zM1197 639v-6h-6v6zM313 597v-6h11v6zM1197 597v-6h-11v6zM313 554v-6h6v6zM1197 554v-6h-6v6zM313 511v-6h6v6zM1197 511v-6h-6v6zM313 469v-6h6v6zM1197 469v-6h-6v6zM313 426v-6h11v6zM1197 426v-6h-11v6zM313 383v-6h6v6zM1197 383v-6h-6v6zM313 341v-6h6v6zM1197 341v-6h-6v6zM313 298v-6h6v6zM1197 298v-6h-6v6zM313 255v-6h11v6zM1197 255v-6h-11v6zM313 213v-6h6v6zM1197 213v-6h-6v6zM313 170v-6h6v6zM1197 170v-6h-6v6zM313 127v-6h6v6zM1197 127v-6h-6v6zM313 85v-6h11v6zM1197 85v-6h-11v6z" fill="#000"/>
<g font-family="'Liberation Serif', serif" font-weight="bold" font-size="99.5px" fill="#000"><text x="327.8" y="1045.8" text-anchor="middle">0</text><text x="541.2" y="1045.8" text-anchor="middle">5</text><text x="754.8" y="1045.8" text-anchor="middle">10</text><text x="968.2" y="1045.8" text-anchor="middle">15</text><text x="1181.8" y="1045.8" text-anchor="middle">20</text><text x="296.3" y="957.2" text-anchor="end">0</text><text x="296.3" y="786.6" text-anchor="end">20</text><text x="296.3" y="616.0" text-anchor="end">40</text><text x="296.3" y="445.4" text-anchor="end">60</text><text x="296.3" y="274.8" text-anchor="end">80</text><text x="296.3" y="104.2" text-anchor="end">100</text></g>
<text transform="translate(84 748.4) rotate(-90)" font-family="'Liberation Serif', serif" font-weight="bold" font-size="98px" word-spacing="6" textLength="484" lengthAdjust="spacingAndGlyphs">m in water</text>
<g font-family="'DejaVu Math TeX Gyre', 'DejaVu Serif', serif" font-size="97.5px" stroke="#000" stroke-width="1.3"><text transform="translate(671.4 1189.7) scale(1.03 1)">⟨</text><text transform="translate(797.2 1189.7) scale(1.03 1)">⟩</text></g>
<text x="713.5" y="1188.5" font-family="'Liberation Serif', serif" font-style="italic" font-size="100.5px" stroke="#000" stroke-width="2.6" stroke-linejoin="round" textLength="82.3" lengthAdjust="spacingAndGlyphs">m</text>
<rect x="1237.3" y="61.20" width="58.6" height="44.80" fill="#FFF2BF"/>
<rect x="1237.3" y="106.00" width="58.6" height="43.20" fill="#FAD38C"/>
<rect x="1237.3" y="149.00" width="58.6" height="43.20" fill="#F4C277"/>
<rect x="1237.3" y="192.00" width="58.6" height="43.20" fill="#EDB062"/>
<rect x="1237.3" y="235.00" width="58.6" height="44.20" fill="#E6A04D"/>
<rect x="1237.3" y="279.00" width="58.6" height="43.20" fill="#B99066"/>
<rect x="1237.3" y="322.00" width="58.6" height="43.20" fill="#8E807D"/>
<rect x="1237.3" y="365.00" width="58.6" height="44.20" fill="#626F98"/>
<rect x="1237.3" y="409.00" width="58.6" height="42.80" fill="#255289"/>
<rect x="1237.8" y="61.7" width="57.6" height="389.6" fill="none" stroke="#000" stroke-opacity="0.45" stroke-width="1"/>
<path d="M1295.9 105.50H1316M1295.9 148.50H1316M1295.9 191.50H1316M1295.9 234.50H1316M1295.9 278.50H1316M1295.9 321.50H1316M1295.9 364.50H1316M1295.9 408.50H1316" stroke="#666" stroke-width="1" fill="none"/>
<g font-family="'Liberation Sans', sans-serif" font-size="50.4px" fill="#666"><text x="1330.8" y="117.4" textLength="94.2" lengthAdjust="spacingAndGlyphs">1.15</text><text x="1330.8" y="160.4" textLength="94.2" lengthAdjust="spacingAndGlyphs">1.10</text><text x="1330.8" y="203.4" textLength="94.2" lengthAdjust="spacingAndGlyphs">1.05</text><text x="1330.8" y="246.4" textLength="94.2" lengthAdjust="spacingAndGlyphs">1.00</text><text x="1330.8" y="290.4" textLength="94.2" lengthAdjust="spacingAndGlyphs">0.95</text><text x="1330.8" y="333.4" textLength="94.2" lengthAdjust="spacingAndGlyphs">0.90</text><text x="1330.8" y="376.4" textLength="94.2" lengthAdjust="spacingAndGlyphs">0.85</text><text x="1330.8" y="420.4" textLength="94.2" lengthAdjust="spacingAndGlyphs">0.80</text></g>
</svg></body></html>
